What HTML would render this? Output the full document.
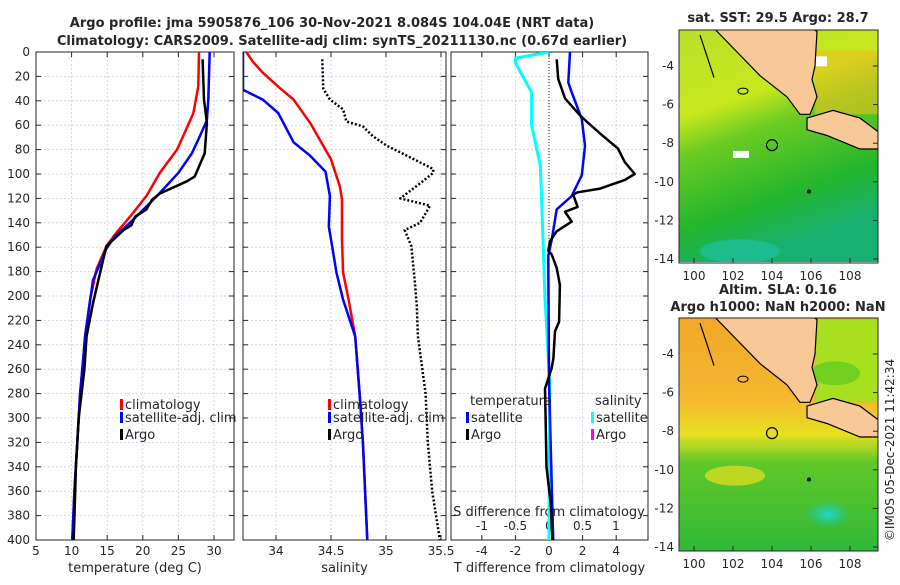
<!DOCTYPE html>
<html><head><meta charset="utf-8"><style>
body{margin:0;background:#fff;font-family:"Liberation Sans",sans-serif}
svg text{font-family:"DejaVu Sans","Liberation Sans",sans-serif;fill:#262626}
</style></head><body>
<svg id="c" width="900" height="580" viewBox="0 0 900 580" xmlns="http://www.w3.org/2000/svg">
<defs>
<linearGradient id="sst" x1="0" y1="0" x2="0.3" y2="1"><stop offset="0" stop-color="#b8e02a"/><stop offset="0.35" stop-color="#c8e81e"/><stop offset="0.5" stop-color="#6ccc22"/><stop offset="0.8" stop-color="#22b52e"/><stop offset="1" stop-color="#18b070"/></linearGradient>
<linearGradient id="sla" x1="0" y1="0" x2="0" y2="1"><stop offset="0" stop-color="#f0a828"/><stop offset="0.35" stop-color="#f5b830"/><stop offset="0.5" stop-color="#e8e020"/><stop offset="0.62" stop-color="#60c828"/><stop offset="1" stop-color="#30b838"/></linearGradient>
<radialGradient id="cyanspot"><stop offset="0" stop-color="#20d8d8"/><stop offset="1" stop-color="#20c8a0" stop-opacity="0"/></radialGradient>
<clipPath id="cp1"><rect x="36" y="52" width="198" height="488"/></clipPath>
<clipPath id="cp2"><rect x="243" y="52" width="203" height="488"/></clipPath>
<clipPath id="cp3"><rect x="451" y="52" width="197" height="488"/></clipPath>
<clipPath id="m1"><rect x="679" y="30" width="199" height="232"/></clipPath>
<clipPath id="m2"><rect x="679" y="318" width="199" height="233"/></clipPath>
</defs>
<g id="g"></g>
</svg>
<script>
// ---- data ----
const depthClim=[0,28,50,66,80,99,118,135,148,159,178,203,233,260,280,320,360,400];
const tempClim=[27.9,27.8,27.1,25.9,24.8,22.4,20.5,18.2,16.3,14.9,13.5,12.6,11.9,11.5,11.2,10.8,10.4,10.1];
const depthSat=[0,39,56,69,83,99,118,129,140,151,161,187,233,260,280,320,360,400];
const tempSat=[29.4,29.2,29.0,28,26.9,25,22,20.1,18.2,16.1,14.9,13,11.9,11.5,11.2,10.8,10.4,10.1];
const depthArgo=[6,39,58,83,102,106,116,121,129,135,142,146,159,176,206,233,260,300,340,360,400];
const tempArgo=[28.4,28.6,29,28.7,27.3,26.2,22.4,21.3,20.5,18.9,18.4,17.3,14.9,14.2,13,12.1,11.8,11,10.6,10.5,10.3];
const depthSalC=[0,8,17,30,39,58,77,88,110,121,154,181,203,233,280,320,360,400];
const salClim=[33.73,33.79,33.88,34.04,34.16,34.31,34.43,34.5,34.58,34.6,34.6,34.61,34.66,34.72,34.76,34.79,34.81,34.83];
const depthSalS=[0,31,39,50,74,85,98,118,143,159,181,203,233,280,320,360,400];
const salSat=[33.7,33.7,33.88,34.02,34.16,34.31,34.45,34.49,34.48,34.51,34.55,34.61,34.72,34.76,34.79,34.81,34.83];
const depthSalA=[6,30,39,47,57,61,69,77,85,96,99,107,120,126,140,146,159,186,208,233,280,320,360,400];
const salArgo=[34.42,34.43,34.49,34.61,34.64,34.79,34.88,35.01,35.19,35.43,35.43,35.32,35.13,35.4,35.31,35.17,35.23,35.26,35.28,35.29,35.36,35.38,35.42,35.49];
const depthDT=[6,22,38,52,57,68,79,90,100,105,112,115,117,127,131,139,147,155,163,166,177,191,221,229,251,259,276,300,340,370,400];
const dTArgo=[0.46,0.55,0.95,1.85,2.24,3.14,4.1,4.5,5.1,4.5,3.04,1.7,1.44,1.7,0.95,1.35,0.46,0.06,-0.04,0.16,0.46,0.65,0.6,0.36,0.26,0.16,-0.24,-0.2,-0.15,0.1,0.2];
const depthDTs=[0,25,33,55,77,101,118,129,154,167,270,400];
const dTSat=[1.25,1.15,1.35,1.95,2.14,1.95,1.35,0.46,0.16,-0.04,0,0.25];
const depthDS=[0,5,9,33,60,93,120,202,270,400];
const dSSat=[0,-0.5,-0.5,-0.26,-0.26,-0.13,-0.11,-0.06,0.01,0];
const depthTicks=[0,20,40,60,80,100,120,140,160,180,200,220,240,260,280,300,320,340,360,380,400];
const tTicks=[5,10,15,20,25,30];
const sTicks=[34,34.5,35,35.5];
const dtTicks=[-4,-2,0,2,4];
const dsTicks=[-1,-0.5,0,0.5,1];
const lonTicks=[100,102,104,106,108];
const latTicks=[-4,-6,-8,-10,-12,-14];

const NS='http://www.w3.org/2000/svg';
const G=document.getElementById('g');
function mk(t,a,p){const e=document.createElementNS(NS,t);for(const k in a)e.setAttribute(k,a[k]);(p||G).appendChild(e);return e;}
const yD=d=>52+d*488/400;
const xT=v=>36+(v-5)*35.6/5;
const xS=v=>276+(v-34)*110;
const xDT=v=>549+v*16.8;
const xDS=v=>549+v*67;

function panel(x0,w,xs,ticks,fmt,name,label){
  const a=mk('g',{});
  
  
  depthTicks.forEach(d=>mk('line',{x1:x0,x2:x0+w,y1:yD(d),y2:yD(d),stroke:'#c8d0e8','stroke-dasharray':'2,2','stroke-width':0.8},a));
  ticks.forEach(t=>{const x=xs(t);mk('line',{x1:x,x2:x,y1:52,y2:540,stroke:'#c8d0e8','stroke-dasharray':'2,2','stroke-width':0.8},a);
    mk('line',{x1:x,x2:x,y1:540,y2:535,stroke:'#262626'},a);mk('line',{x1:x,x2:x,y1:52,y2:57,stroke:'#262626'},a);
    const tx=mk('text',{x:x,y:555,'font-size':12,'text-anchor':'middle'},a);tx.textContent=fmt(t);});
  depthTicks.forEach(d=>{mk('line',{x1:x0,x2:x0+5,y1:yD(d),y2:yD(d),stroke:'#262626'},a);mk('line',{x1:x0+w,x2:x0+w-5,y1:yD(d),y2:yD(d),stroke:'#262626'},a);});
  mk('rect',{x:x0,y:52,width:w,height:488,fill:'none',stroke:'#262626','stroke-width':1},a);
  const l=mk('text',{x:x0+w/2,y:572,'font-size':13,'text-anchor':'middle'},a);l.textContent=label;
  return a;
}
const p1=panel(36,198,xT,tTicks,String,'temperature-panel','temperature (deg C)');
depthTicks.forEach(d=>{const t=mk('text',{x:30,y:yD(d)+4,'font-size':12,'text-anchor':'end'});t.textContent=d;});
const p2=panel(243,203,xS,sTicks,String,'salinity-panel','salinity');
const p3=panel(451,197,xDT,dtTicks,String,'difference-panel','T difference from climatology');
mk('line',{x1:549,x2:549,y1:52,y2:540,stroke:'#262626','stroke-dasharray':'1,2','stroke-width':1});
dsTicks.forEach(t=>{const tx=mk('text',{x:xDS(t),y:530,'font-size':12,'text-anchor':'middle'});tx.textContent=String(t);});
{const t=mk('text',{x:549,y:516,'font-size':13,'text-anchor':'middle'});t.textContent='S difference from climatology';}

function line(xs,vals,deps,col,w,name,clip,dash){
  const d=vals.map((v,i)=>(i?'L':'M')+xs(v).toFixed(1)+','+yD(deps[i]).toFixed(1)).join('');
  const e=mk('path',{d:d,fill:'none',stroke:col,'stroke-width':w,'clip-path':'url(#'+clip+')','stroke-linejoin':'round'});
  if(dash)e.setAttribute('stroke-dasharray',dash);
  
  
}
line(xT,tempClim,depthClim,'#ff0000',2.5,'temp-climatology-line','cp1');
line(xT,tempSat,depthSat,'#0000ff',2.5,'temp-satellite-line','cp1');
line(xT,tempArgo,depthArgo,'#000',2.5,'temp-argo-line','cp1');
line(xS,salClim,depthSalC,'#ff0000',2.5,'sal-climatology-line','cp2');
line(xS,salSat,depthSalS,'#0000ff',2.5,'sal-satellite-line','cp2');
line(xS,salArgo,depthSalA,'#000',2.5,'sal-argo-line','cp2','2,2');
line(xDS,dSSat,depthDS,'#00ffff',3,'sdiff-satellite-line','cp3');
line(xDT,dTSat,depthDTs,'#0000ff',2.5,'tdiff-satellite-line','cp3');
line(xDT,dTArgo,depthDT,'#000',2.5,'tdiff-argo-line','cp3');

function leg(x,y,col,txt,name){const g=mk('g',{});
  mk('rect',{x:x,y:y-10,width:3,height:11,fill:col},g);const t=mk('text',{x:x+5,y:y,'font-size':13},g);t.textContent=txt;}
leg(120,409,'#ff0000','climatology','legend-climatology');
leg(120,422,'#0000ff','satellite-adj. clim','legend-satellite');
leg(120,439,'#000','Argo','legend-argo');
leg(328,409,'#ff0000','climatology','legend-sal-climatology');
leg(328,422,'#0000ff','satellite-adj. clim','legend-sal-satellite');
leg(328,439,'#000','Argo','legend-sal-argo');
{const t=mk('text',{x:470,y:405,'font-size':13});t.textContent='temperature';const s=mk('text',{x:595,y:405,'font-size':13});s.textContent='salinity';}
leg(466,422,'#0000ff','satellite','legend-t-satellite');
leg(466,439,'#000','Argo','legend-t-argo');
leg(591,422,'#00ffff','satellite','legend-s-satellite');
leg(591,439,'#ff00ff','Argo','legend-s-argo');
{const t=mk('text',{x:332,y:27,'font-size':13,'font-weight':'bold','text-anchor':'middle'});t.textContent='Argo profile: jma 5905876_106 30-Nov-2021 8.084S 104.04E (NRT data)';
 const u=mk('text',{x:342,y:45,'font-size':13,'font-weight':'bold','text-anchor':'middle'});u.textContent='Climatology: CARS2009. Satellite-adj clim: synTS_20211130.nc (0.67d earlier)';}

// ---- maps ----
const mapX=lon=>694+(lon-100)*19.5;
function map(top,fill,clip,name,extra){
  const g=mk('g',{'clip-path':'url(#'+clip+')'});
  
  const yL=lat=>top+36+(-4-lat)*19.3;
  mk('rect',{x:679,y:top,width:199,height:233,fill:fill},g);
  extra(g,yL);
  const sum=[[715,-2.1],[760,-4.5],[787,-5.6],[800,-6.5],[810,-6.5],[817,-5.6],[812,-4.7],[815,-4],[817,-2.2],[813,-2.1]];
  const jav=[[807,-6.7],[833,-6.3],[860,-6.7],[878,-7.4],[878,-8.3],[860,-8.3],[827,-7.6],[807,-7.3]];
  [sum,jav].forEach(p=>mk('path',{d:'M'+p.map(q=>q[0]+','+yL(q[1]).toFixed(1)).join('L')+'Z',fill:'#f8c896',stroke:'#000','stroke-width':1.2},g));
  mk('path',{d:`M700,${yL(-2.4)}L707,${yL(-3.5)}L714,${yL(-4.6)}`,fill:'none',stroke:'#000','stroke-width':1.2},g);
  mk('ellipse',{cx:743,cy:yL(-5.3),rx:5,ry:3,fill:'none',stroke:'#000'},g);
  mk('ellipse',{cx:772,cy:yL(-8.1),rx:5.5,ry:5.5,fill:'none',stroke:'#000','stroke-width':1.2},g);
  mk('circle',{cx:809,cy:yL(-10.5),r:2,fill:'#000'},g);
  mk('rect',{x:679,y:top,width:199,height:233,fill:'none',stroke:'#262626'});
  lonTicks.forEach(l=>{const t=mk('text',{x:mapX(l),y:top+250,'font-size':12,'text-anchor':'middle'});t.textContent=l;mk('line',{x1:mapX(l),x2:mapX(l),y1:top+233,y2:top+228,stroke:'#262626'});});
  latTicks.forEach(l=>{const t=mk('text',{x:674,y:yL(l)+4,'font-size':12,'text-anchor':'end'});t.textContent=l;mk('line',{x1:878,x2:873,y1:yL(l),y2:yL(l),stroke:'#262626'});});
}
map(30,'url(#sst)','m1','sst-map',(g,yL)=>{
  mk('rect',{x:815,y:yL(-3.2),width:63,height:yL(-6.5)-yL(-3.2),fill:'#e8c020',opacity:0.6},g);
  mk('ellipse',{cx:740,cy:yL(-13.6),rx:40,ry:12,fill:'#20c0a0',opacity:0.7},g);
  mk('rect',{x:733,y:yL(-8.4),width:16,height:7,fill:'#fff'},g);
  mk('rect',{x:813,y:yL(-3.5),width:14,height:10,fill:'#fff'},g);
});
map(318,'url(#sla)','m2','sla-map',(g,yL)=>{
  mk('rect',{x:815,y:yL(-2.2),width:63,height:yL(-6.5)-yL(-2.2),fill:'#a8e020'},g);
  mk('ellipse',{cx:835,cy:yL(-5),rx:25,ry:12,fill:'#70d020'},g);
  mk('ellipse',{cx:828,cy:yL(-12.3),rx:24,ry:14,fill:'url(#cyanspot)'},g);
  mk('ellipse',{cx:735,cy:yL(-10.3),rx:30,ry:10,fill:'#e8e020',opacity:0.7},g);
});
{const t=mk('text',{x:778,y:22,'font-size':13,'font-weight':'bold','text-anchor':'middle'});t.textContent='sat. SST: 29.5 Argo: 28.7';
 const a=mk('text',{x:778,y:294,'font-size':13,'font-weight':'bold','text-anchor':'middle'});a.textContent='Altim. SLA: 0.16';
 const b=mk('text',{x:778,y:311,'font-size':13,'font-weight':'bold','text-anchor':'middle'});b.textContent='Argo h1000: NaN h2000: NaN';
 const c=mk('text',{x:0,y:0,'font-size':12,'text-anchor':'middle',transform:'translate(894,450) rotate(-90)'});c.textContent='©IMOS 05-Dec-2021 11:42:34';}
</script>
</body></html>
